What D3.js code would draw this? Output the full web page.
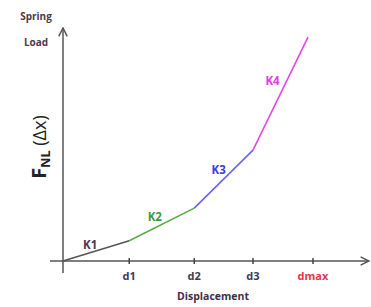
<!DOCTYPE html>
<html>
<head>
<meta charset="utf-8">
<script src="https://cdn.jsdelivr.net/npm/d3@7"></script>
<style>
  body { margin: 0; background: #fff; }
  text { font-family: "Open Sans", "DejaVu Sans", sans-serif; }
</style>
</head>
<body>
<div id="chart"></div>
<script>
  // displacement breakpoints (in units of tick spacing) and spring load
  var tickLabels = ["d1", "d2", "d3", "dmax"];
  var tickValues = [1.06, 2.1, 3.04, 4];
  var dispValues = [0, 1.06, 2.1, 3.04, 3.92];
  var loadValues = [0, 0.9, 2.35, 4.93, 9.95];
  var segLabels = ["K1", "K2", "K3", "K4"];
  var segColors = ["#555555", "#5aa846", "#6666ee", "#e646e6"];
  var labelColors = ["#4a3a4a", "#3b9a3b", "#3a3ae0", "#e03ae0"];

  var width = 371, height = 307;
  var x = d3.scaleLinear().domain([0, 4]).range([63, 313]);
  var y = d3.scaleLinear().domain([0, 10]).range([261, 36]);

  var svg = d3.select("#chart").append("svg")
    .attr("width", width)
    .attr("height", height);

  var defs = svg.append("defs");
  defs.append("marker")
    .attr("id", "arrow")
    .attr("viewBox", "0 0 10 10")
    .attr("refX", 9).attr("refY", 5)
    .attr("markerWidth", 7).attr("markerHeight", 7)
    .attr("orient", "auto")
    .append("path")
    .attr("d", "M1,1 L9,5 L1,9")
    .attr("fill", "none")
    .attr("stroke", "#555")
    .attr("stroke-width", 1.4);

  // axes
  svg.append("line")
    .attr("x1", x(0)).attr("y1", 273)
    .attr("x2", x(0)).attr("y2", 28)
    .attr("stroke", "#555").attr("stroke-width", 1.5)
    .attr("marker-end", "url(#arrow)");
  svg.append("line")
    .attr("x1", 50).attr("y1", y(0))
    .attr("x2", 369).attr("y2", y(0))
    .attr("stroke", "#555").attr("stroke-width", 1.5)
    .attr("marker-end", "url(#arrow)");

  svg.selectAll(".tick")
    .data(tickValues)
    .enter().append("line")
    .attr("class", "tick")
    .attr("x1", function(d) { return x(d); })
    .attr("x2", function(d) { return x(d); })
    .attr("y1", y(0) - 3).attr("y2", y(0) + 3)
    .attr("stroke", "#444").attr("stroke-width", 1.5);

  svg.selectAll(".ticklabel")
    .data(tickValues)
    .enter().append("text")
    .attr("class", "ticklabel")
    .attr("x", function(d) { return x(d); })
    .attr("y", 280)
    .attr("text-anchor", "middle")
    .attr("font-size", "11px")
    .attr("font-weight", "bold")
    .attr("fill", function(d, i) { return tickLabels[i] === "dmax" ? "#e8334a" : "#3c3c58"; })
    .text(function(d, i) { return tickLabels[i]; });

  // segments
  var segs = d3.range(segLabels.length).map(function(i) {
    return {x0: dispValues[i], y0: loadValues[i], x1: dispValues[i + 1], y1: loadValues[i + 1], i: i};
  });

  svg.selectAll(".seg")
    .data(segs)
    .enter().append("line")
    .attr("class", "seg")
    .attr("x1", function(d) { return x(d.x0); })
    .attr("y1", function(d) { return y(d.y0); })
    .attr("x2", function(d) { return x(d.x1); })
    .attr("y2", function(d) { return y(d.y1); })
    .attr("stroke", function(d) { return segColors[d.i]; })
    .attr("stroke-width", 1.6);

  var labelOffsets = [[-6, -2], [-7, -3], [-5, -5], [-8, -9]];
  svg.selectAll(".seglabel")
    .data(segs)
    .enter().append("text")
    .attr("class", "seglabel")
    .attr("x", function(d) { return (x(d.x0) + x(d.x1)) / 2 + labelOffsets[d.i][0]; })
    .attr("y", function(d) { return (y(d.y0) + y(d.y1)) / 2 + labelOffsets[d.i][1]; })
    .attr("text-anchor", "middle")
    .attr("font-size", "11.5px")
    .attr("font-weight", "bold")
    .attr("fill", function(d) { return labelColors[d.i]; })
    .text(function(d) { return segLabels[d.i]; });

  // titles
  svg.append("text")
    .attr("x", 36).attr("y", 20)
    .attr("text-anchor", "middle")
    .attr("font-size", "10px").attr("font-weight", "bold")
    .attr("fill", "#4a3a4a")
    .text("Spring");
  svg.append("text")
    .attr("x", 36).attr("y", 46)
    .attr("text-anchor", "middle")
    .attr("font-size", "10px").attr("font-weight", "bold")
    .attr("fill", "#4a3a4a")
    .text("Load");

  svg.append("text")
    .attr("x", 213).attr("y", 300)
    .attr("text-anchor", "middle")
    .attr("font-size", "10.5px").attr("font-weight", "bold")
    .attr("fill", "#3c3048")
    .text("Displacement");

  var yl = svg.append("text")
    .attr("transform", "translate(46,147) rotate(-90)")
    .attr("text-anchor", "middle")
    .attr("font-weight", "bold")
    .attr("fill", "#222");
  yl.append("tspan").attr("font-size", "20px").text("F");
  yl.append("tspan").attr("font-size", "12.5px").attr("dy", 4).text("NL");
  yl.append("tspan").attr("font-size", "18px").attr("dy", -4).attr("font-weight", "normal").text(" (\u0394x)");
</script>
</body>
</html>
